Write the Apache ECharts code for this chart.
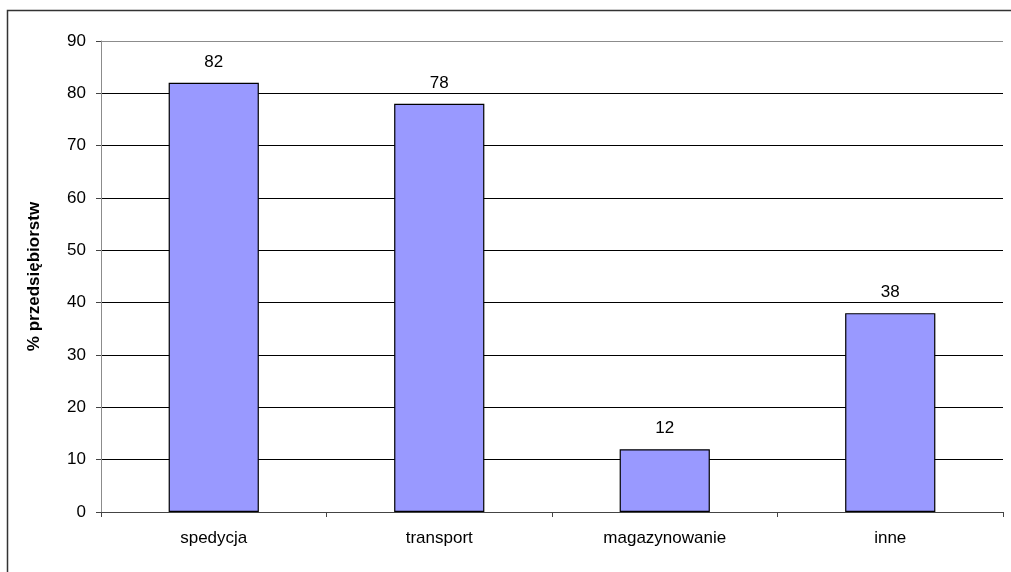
<!DOCTYPE html>
<html>
<head>
<meta charset="utf-8">
<script src="https://cdn.jsdelivr.net/npm/echarts@6/dist/echarts.min.js"></script>
<style>
  html, body { margin: 0; padding: 0; background: #fff; }
  #chart { width: 1011px; height: 572px; }
</style>
</head>
<body>
<div id="chart"></div>
<script>
// kategorie i wartosci
var categories = ["spedycja", "transport", "magazynowanie", "inne"];
var values = [82, 78, 12, 38];
var yTicks = [0, 10, 20, 30, 40, 50, 60, 70, 80, 90];

var font = "Liberation Sans, Arial, sans-serif";

// linie siatki: czarne, gorna szara
var gridColors = yTicks.map(function (t, i) {
  return i === yTicks.length - 1 ? "#8c8c8c" : "#000";
});

var chart = echarts.init(document.getElementById("chart"));
chart.setOption({
  animation: false,
  textStyle: { fontFamily: font },
  graphic: [
    {
      type: "rect",
      shape: { x: 7.5, y: 10.5, width: 1100, height: 700 },
      style: { fill: "none", stroke: "#333", lineWidth: 1.5 },
      silent: true,
    },
  ],
  grid: { left: 101, right: 8, top: 41, bottom: 60 },
  xAxis: {
    type: "category",
    data: categories,
    axisLine: { lineStyle: { color: "#444", width: 1 } },
    axisTick: { show: true, length: 5, lineStyle: { color: "#444" } },
    axisLabel: { color: "#000", fontSize: 17, margin: 18, fontFamily: font },
  },
  yAxis: {
    type: "value",
    min: 0,
    max: 90,
    interval: 10,
    name: "% przedsiębiorstw",
    nameLocation: "middle",
    nameGap: 58,
    nameTextStyle: { color: "#000", fontSize: 17, fontWeight: "bold", fontFamily: font },
    axisLine: { show: true, lineStyle: { color: "#8c8c8c" } },
    axisTick: { show: true, length: 5, lineStyle: { color: "#444" } },
    axisLabel: { color: "#000", fontSize: 17, margin: 15, fontFamily: font },
    splitLine: { show: true, lineStyle: { color: gridColors, width: 1 } },
  },
  series: [
    {
      type: "bar",
      data: values,
      barWidth: "40%",
      itemStyle: { color: "#9999ff", borderColor: "#000", borderWidth: 1.2 },
      label: {
        show: true,
        position: "top",
        distance: 12,
        color: "#000",
        fontSize: 17,
        fontFamily: font,
      },
    },
  ],
});
</script>
</body>
</html>
